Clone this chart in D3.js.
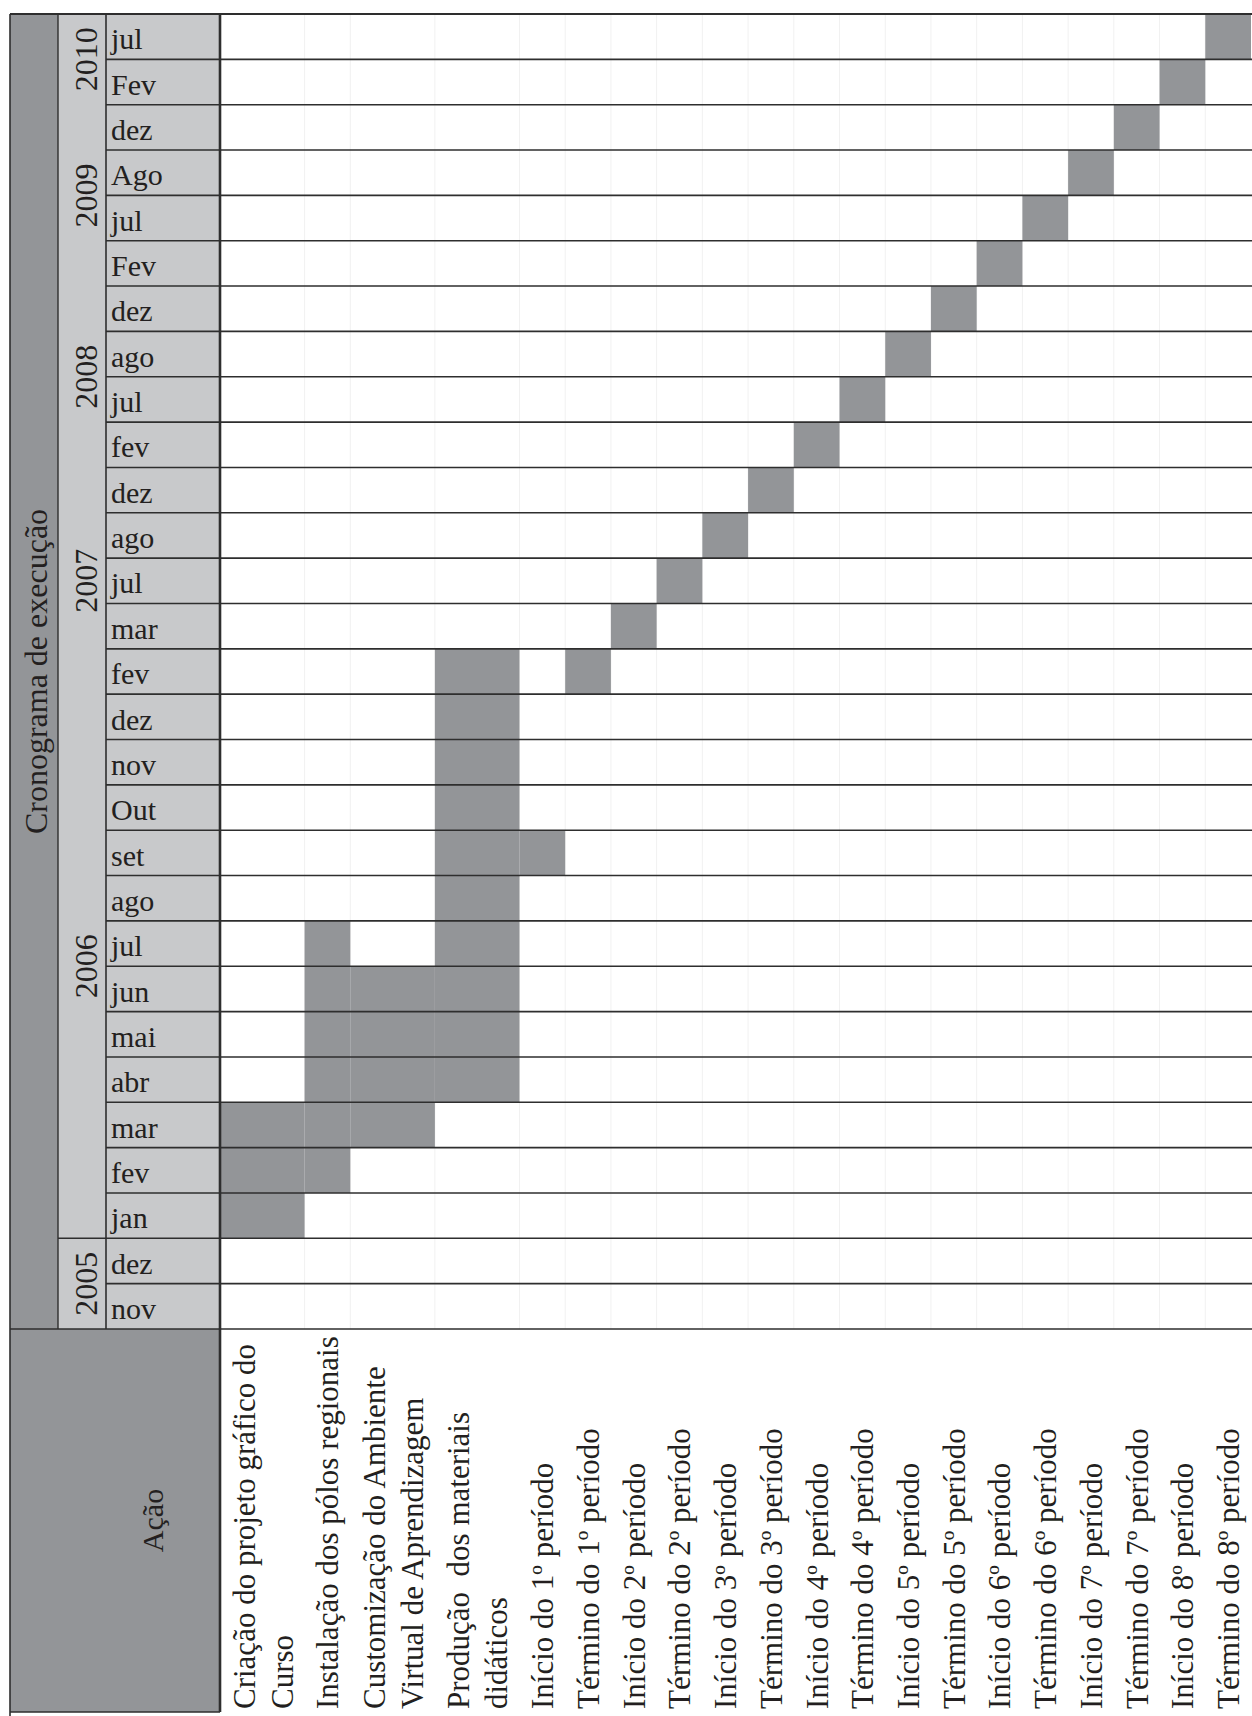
<!DOCTYPE html>
<html>
<head>
<meta charset="utf-8">
<script src="https://cdn.jsdelivr.net/npm/d3@7"></script>
<style>
  html, body { margin: 0; padding: 0; background: #fff; }
  svg { display: block; }
  text { font-family: "Liberation Serif", "DejaVu Serif", serif; fill: #231f20; }
</style>
</head>
<body>
<svg id="chart" width="1252" height="1716"></svg>
<script>
// ---------------- DATA ----------------
// Months in chronological order (bottom row first) with their year
const monthLabels = ["nov","dez","jan","fev","mar","abr","mai","jun","jul","ago","set","Out","nov","dez",
                     "fev","mar","jul","ago","dez","fev","jul","ago","dez","Fev","jul","Ago","dez","Fev","jul"];
const monthYears  = [2005,2005,2006,2006,2006,2006,2006,2006,2006,2006,2006,2006,2006,2006,
                     2007,2007,2007,2007,2007,2008,2008,2008,2008,2009,2009,2009,2009,2010,2010];
const yearLabels = [2005, 2006, 2007, 2008, 2009, 2010];

// Actions (columns), each with its label lines
const actionLabels = [
  ["Criação do projeto gráfico do", "Curso"],
  ["Instalação dos pólos regionais"],
  ["Customização do Ambiente", "Virtual de Aprendizagem"],
  ["Produção\u00a0 dos materiais", "didáticos"],
  ["Início do 1º período"], ["Término do 1º período"],
  ["Início do 2º período"], ["Término do 2º período"],
  ["Início do 3º período"], ["Término do 3º período"],
  ["Início do 4º período"], ["Término do 4º período"],
  ["Início do 5º período"], ["Término do 5º período"],
  ["Início do 6º período"], ["Término do 6º período"],
  ["Início do 7º período"], ["Término do 7º período"],
  ["Início do 8º período"], ["Término do 8º período"]
];
// Start / end month of each action (year-month keys)
const taskStart = ["2006-jan","2006-fev","2006-mar","2006-abr","2006-set","2007-fev","2007-mar","2007-jul",
                   "2007-ago","2007-dez","2008-fev","2008-jul","2008-ago","2008-dez","2009-Fev","2009-jul",
                   "2009-Ago","2009-dez","2010-Fev","2010-jul"];
const taskEnd   = ["2006-mar","2006-jul","2006-jun","2007-fev","2006-set","2007-fev","2007-mar","2007-jul",
                   "2007-ago","2007-dez","2008-fev","2008-jul","2008-ago","2008-dez","2009-Fev","2009-jul",
                   "2009-Ago","2009-dez","2010-Fev","2010-jul"];

const titleText = "Cronograma de execução";
const actionTitle = "Ação";

// ---------------- LAYOUT ----------------
const W = 1252, H = 1716;
const outerL = 10, topY = 14;
const yearL = 58, monthL = 106, gridL = 220, gridR = 1251;
const gridBottom = 1329, tableBottom = 1712;
const dark = "#939598", light = "#c8c9cb", lineC = "#2e2e2e";
const font = 32, monthFont = 30, labelFont = 31;

const svg = d3.select("#chart");
svg.append("rect").attr("width", W).attr("height", H).attr("fill", "#fff");

const keys = monthLabels.map((m, i) => monthYears[i] + "-" + m);
const idx = new Map(keys.map((k, i) => [k, i]));

// y: latest month at top
const y = d3.scaleBand().domain(keys.slice().reverse()).range([topY, gridBottom]).paddingInner(0).paddingOuter(0);

// x: column widths weighted by number of label lines
const weights = actionLabels.map(l => l.length === 2 ? 1.85 : 1);
const cum = [0];
weights.forEach(w => cum.push(cum[cum.length - 1] + w));
const xu = d3.scaleLinear().domain([0, cum[cum.length - 1]]).range([gridL, gridR]);
const colX0 = i => xu(cum[i]);
const colX1 = i => xu(cum[i + 1]);

// ---------- left header blocks ----------
svg.append("rect").attr("x", outerL).attr("y", topY).attr("width", yearL - outerL).attr("height", gridBottom - topY).attr("fill", dark);
svg.append("rect").attr("x", yearL).attr("y", topY).attr("width", monthL - yearL).attr("height", gridBottom - topY).attr("fill", light);
svg.append("rect").attr("x", monthL).attr("y", topY).attr("width", gridL - monthL).attr("height", gridBottom - topY).attr("fill", light);
svg.append("rect").attr("x", outerL).attr("y", gridBottom).attr("width", gridL - outerL).attr("height", tableBottom - gridBottom).attr("fill", dark);

// ---------- faint column guides ----------
svg.append("g").selectAll("line").data(d3.range(1, actionLabels.length)).join("line")
  .attr("x1", i => colX0(i)).attr("x2", i => colX0(i))
  .attr("y1", topY).attr("y2", gridBottom)
  .attr("stroke", "#f1f1f1").attr("stroke-width", 1);

// ---------- bars ----------
const tasks = actionLabels.map((l, i) => ({ i, s: idx.get(taskStart[i]), e: idx.get(taskEnd[i]) }));
svg.append("g").selectAll("rect").data(tasks).join("rect")
  .attr("x", d => colX0(d.i))
  .attr("width", d => colX1(d.i) - colX0(d.i))
  .attr("y", d => y(keys[d.e]))
  .attr("height", d => y(keys[d.s]) + y.bandwidth() - y(keys[d.e]))
  .attr("fill", dark);

// ---------- row lines ----------
const rowEdges = d3.range(1, keys.length).map(i => y(keys[i]) + y.bandwidth());
svg.append("g").selectAll("line").data(rowEdges).join("line")
  .attr("x1", monthL).attr("x2", W)
  .attr("y1", d => d).attr("y2", d => d)
  .attr("stroke", lineC).attr("stroke-width", 1.6);

// year boundary 2005/2006 in year column
const firstOf2006 = keys[monthYears.indexOf(2006)];
svg.append("line")
  .attr("x1", yearL).attr("x2", monthL)
  .attr("y1", y(firstOf2006) + y.bandwidth()).attr("y2", y(firstOf2006) + y.bandwidth())
  .attr("stroke", lineC).attr("stroke-width", 1.6);

// frame lines
const hl = (x1, x2, yy, w) => svg.append("line").attr("x1", x1).attr("x2", x2).attr("y1", yy).attr("y2", yy).attr("stroke", lineC).attr("stroke-width", w);
const vl = (xx, y1, y2, w) => svg.append("line").attr("x1", xx).attr("x2", xx).attr("y1", y1).attr("y2", y2).attr("stroke", lineC).attr("stroke-width", w);
hl(outerL, W, topY, 2);
hl(outerL, W, gridBottom, 1.6);
hl(outerL, gridL, tableBottom, 1.6);
vl(outerL, topY, H, 1.6);
vl(yearL, topY, gridBottom, 1.4);
vl(monthL, topY, gridBottom, 1.6);
vl(gridL, topY, tableBottom, 2.6);

// ---------- texts ----------
// month labels
svg.append("g").selectAll("text").data(keys).join("text")
  .attr("x", monthL + 5)
  .attr("y", d => y(d) + y.bandwidth() - 10)
  .attr("font-size", monthFont)
  .text((d, i) => monthLabels[i]);

// year labels (rotated, centered on their months)
yearLabels.forEach(yr => {
  const ks = keys.filter((k, i) => monthYears[i] === yr);
  const y0 = d3.min(ks, k => y(k)), y1 = d3.max(ks, k => y(k) + y.bandwidth());
  svg.append("text")
    .attr("transform", `translate(${monthL - 9},${(y0 + y1) / 2}) rotate(-90)`)
    .attr("text-anchor", "middle")
    .attr("font-size", font)
    .text(yr);
});

// title
svg.append("text")
  .attr("transform", `translate(${yearL - 11},${(topY + gridBottom) / 2}) rotate(-90)`)
  .attr("text-anchor", "middle")
  .attr("font-size", font)
  .text(titleText);

// Ação
svg.append("text")
  .attr("transform", `translate(${163},${(gridBottom + tableBottom) / 2}) rotate(-90)`)
  .attr("text-anchor", "middle")
  .attr("font-size", 30)
  .text(actionTitle);

// action labels
const labG = svg.append("g");
actionLabels.forEach((lines, i) => {
  const right = colX1(i);
  lines.forEach((ln, j) => {
    const bx = right - 12 - (lines.length - 1 - j) * 38;
    labG.append("text")
      .attr("transform", `translate(${bx},1709) rotate(-90)`)
      .attr("font-size", labelFont)
      .text(ln);
  });
});
</script>
</body>
</html>
